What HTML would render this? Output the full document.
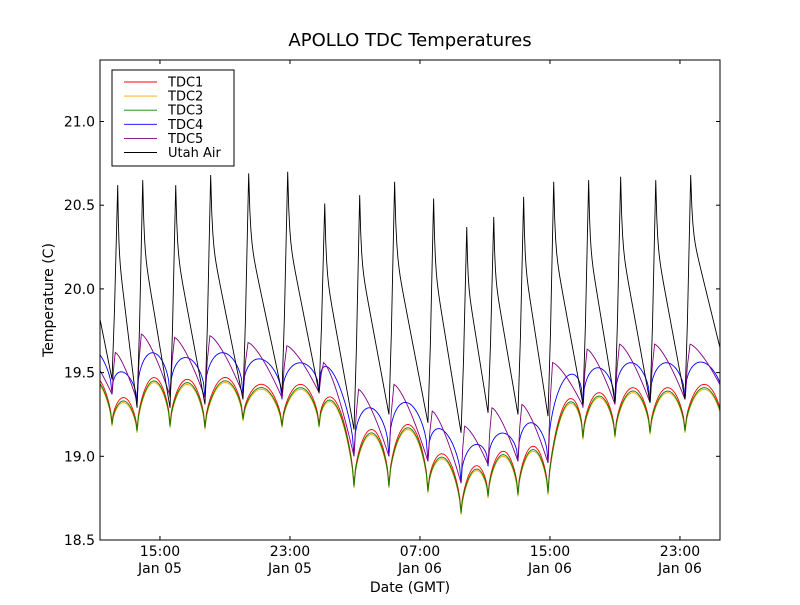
<!DOCTYPE html>
<html><head><meta charset="utf-8"><style>
body{margin:0;background:#fff}
svg text{font-family:"DejaVu Sans","Liberation Sans",sans-serif}
</style></head><body>
<svg id="chart" width="800" height="600" viewBox="0 0 800 600" xmlns="http://www.w3.org/2000/svg">
<rect x="0" y="0" width="800" height="600" fill="#fff"/>
<defs><clipPath id="clip"><rect x="100" y="60" width="620" height="480"/></clipPath></defs>
<text x="410" y="46" font-size="18" text-anchor="middle">APOLLO TDC Temperatures</text>
<g id="series" clip-path="url(#clip)"></g>
<rect x="100" y="60" width="620" height="480" fill="none" stroke="#000" stroke-width="1"/>
<g id="axes"></g>
<text x="410" y="592" font-size="14" text-anchor="middle">Date (GMT)</text>
<text x="53" y="300" font-size="14" text-anchor="middle" transform="rotate(-90 53 300)">Temperature (C)</text>
<g>
<rect x="112" y="70" width="122" height="96" fill="#fff" stroke="#000" stroke-width="1"/>
<g id="legend"></g>
</g>
</svg>
<script>
const troughTimes=[-1.3,0.74,2.28,4.31,6.46,8.80,11.20,13.48,15.63,17.78,20.18,22.22,23.88,25.72,27.57,29.72,31.69,33.85,36.00,38.4];
const tdc1Troughs=[19.30,19.20,19.16,19.19,19.18,19.23,19.19,19.19,18.83,18.83,18.80,18.67,18.77,18.78,18.79,19.12,19.13,19.15,19.16,19.15];
const tdc1Peaks=[19.48,19.35,19.47,19.46,19.47,19.43,19.43,19.32,19.16,19.19,19.01,18.94,19.03,19.06,19.32,19.38,19.41,19.41,19.43];
const tdc2Troughs=[19.28,19.18,19.14,19.17,19.16,19.21,19.17,19.17,18.81,18.81,18.78,18.65,18.75,18.76,18.77,19.10,19.11,19.13,19.14,19.13];
const tdc2Peaks=[19.45,19.32,19.44,19.43,19.44,19.40,19.40,19.29,19.13,19.16,18.98,18.91,19.00,19.03,19.29,19.35,19.38,19.38,19.40];
const tdc3Troughs=[19.29,19.19,19.15,19.18,19.17,19.22,19.18,19.18,18.82,18.82,18.79,18.66,18.76,18.77,18.78,19.11,19.12,19.14,19.15,19.14];
const tdc3Peaks=[19.46,19.33,19.45,19.44,19.45,19.41,19.41,19.30,19.14,19.17,18.99,18.92,19.01,19.04,19.30,19.36,19.39,19.39,19.41];
const tdc4Troughs=[19.50,19.37,19.32,19.35,19.35,19.37,19.34,19.38,19.00,19.00,18.97,18.84,18.94,18.97,18.96,19.29,19.31,19.32,19.34,19.30];
const tdc4Peaks=[19.64,19.50,19.62,19.59,19.62,19.58,19.56,19.46,19.29,19.32,19.15,19.07,19.14,19.20,19.47,19.53,19.56,19.56,19.56];
const tdc5Troughs=[19.50,19.37,19.33,19.36,19.35,19.37,19.35,19.38,19.00,19.00,18.97,18.84,18.95,18.97,18.96,19.30,19.31,19.32,19.34,19.38];
const tdc5Peaks=[19.64,19.62,19.73,19.71,19.72,19.68,19.66,19.56,19.40,19.43,19.27,19.18,19.29,19.31,19.56,19.64,19.67,19.67,19.67];
const utahTroughs=[19.40,19.46,19.29,19.29,19.31,19.34,19.38,19.38,19.16,19.25,19.20,19.14,19.26,19.25,19.24,19.31,19.32,19.32,19.34,19.55];
const utahPeaks=[20.60,20.62,20.65,20.62,20.68,20.69,20.70,20.51,20.56,20.64,20.54,20.37,20.43,20.55,20.64,20.65,20.67,20.65,20.68];
const yTicks=[18.5,19.0,19.5,20.0,20.5,21.0];
const xTickHours=[3.69,11.69,19.69,27.69,35.69];
const xTickTimes=["15:00","23:00","07:00","15:00","23:00"];
const xTickDates=["Jan 05","Jan 05","Jan 06","Jan 06","Jan 06"];
const legendLabels=["TDC1","TDC2","TDC3","TDC4","TDC5","Utah Air"];
const legendColors=["#ff0000","#ffa500","#008000","#0000ff","#800080","#000000"];

const NS="http://www.w3.org/2000/svg";
function X(t){return 100+t*16.25;}
function Y(v){return 540-(v-18.5)*167.4;}
function arcPts(tr,pk,expo,skew){
  const pts=[];
  for(let i=0;i<pk.length;i++){
    const ta=troughTimes[i],tb=troughTimes[i+1],va=tr[i],vb=tr[i+1],p=pk[i];
    for(let k=0;k<=24;k++){const u=k/24;const us=Math.pow(u,skew);
      const v=va+(vb-va)*u+(p-(va+vb)/2)*Math.pow(Math.sin(Math.PI*us),expo);
      pts.push([ta+(tb-ta)*u,v]);}
  }
  return pts;
}
function sawPts(tr,pk){
  const pts=[];
  for(let i=0;i<pk.length;i++){
    const ta=troughTimes[i],tb=troughTimes[i+1],va=tr[i],vb=tr[i+1],p=pk[i];
    pts.push([ta,va]);pts.push([ta+0.06*(tb-ta),va+(p-va)*0.6]);
    const t0=ta+0.13*(tb-ta);
    for(let k=0;k<=16;k++){const w=k/16;pts.push([t0+(tb-t0)*w,p-(p-vb)*Math.pow(w,1.4)]);}
  }
  return pts;
}
function utahPts(tr,pk){
  const pts=[];
  for(let i=0;i<pk.length;i++){
    const ta=troughTimes[i],tb=troughTimes[i+1],va=tr[i],vb=tr[i+1],p=pk[i];
    pts.push([ta,va]);pts.push([ta+0.15,va+(p-va)*0.35]);
    const t0=ta+0.35;
    for(let k=0;k<=30;k++){const w=k/30;
      pts.push([t0+(tb-t0)*w,vb+(p-vb)*(1-w)*(0.72+0.28*Math.exp(-w*20))]);}
  }
  return pts;
}
function draw(pts,color,name){
  const p=document.createElementNS(NS,"path");
  
  
  p.setAttribute("d",pts.map((q,i)=>(i?"L":"M")+X(q[0]).toFixed(2)+" "+Y(q[1]).toFixed(2)).join(""));
  p.setAttribute("fill","none");p.setAttribute("stroke",color);p.setAttribute("stroke-width","0.9");
  document.getElementById("series").appendChild(p);
}
draw(arcPts(tdc1Troughs,tdc1Peaks,0.6,1),"#ff0000","series-tdc1");
draw(arcPts(tdc2Troughs,tdc2Peaks,0.6,1),"#ffa500","series-tdc2");
draw(arcPts(tdc3Troughs,tdc3Peaks,0.6,1),"#008000","series-tdc3");
draw(arcPts(tdc4Troughs,tdc4Peaks,0.45,0.85),"#0000ff","series-tdc4");
draw(sawPts(tdc5Troughs,tdc5Peaks),"#800080","series-tdc5");
draw(utahPts(utahTroughs,utahPeaks),"#000000","series-utah-air");

const axes=document.getElementById("axes");
function el(tag,attrs,txt){const e=document.createElementNS(NS,tag);for(const k in attrs)e.setAttribute(k,attrs[k]);if(txt!==undefined)e.textContent=txt;axes.appendChild(e);return e;}
yTicks.forEach(v=>{const y=Y(v);
  const a=el("line",{x1:100,x2:104,y1:y,y2:y,stroke:"#000"});
  
  
  const b=el("line",{x1:716,x2:720,y1:y,y2:y,stroke:"#000"});
  
  
  const t=el("text",{x:95,y:y+5,"font-size":14,"text-anchor":"end"},v.toFixed(1));
  
  
});
xTickHours.forEach((h,i)=>{const x=X(h);
  const a=el("line",{x1:x,x2:x,y1:540,y2:536,stroke:"#000"});
  
  
  const b=el("line",{x1:x,x2:x,y1:60,y2:64,stroke:"#000"});
  
  
  const t=el("text",{x:x,y:556,"font-size":14,"text-anchor":"middle"},xTickTimes[i]);
  
  
  const d=el("text",{x:x,y:573,"font-size":14,"text-anchor":"middle"},xTickDates[i]);
  
  
});
const lg=document.getElementById("legend");
legendLabels.forEach((lab,i)=>{const y=82+i*14.1;
  const g=document.createElementNS(NS,"g");
  
  
  const l=document.createElementNS(NS,"line");
  l.setAttribute("x1",124);l.setAttribute("x2",157);l.setAttribute("y1",y);l.setAttribute("y2",y);
  l.setAttribute("stroke",legendColors[i]);l.setAttribute("stroke-width","0.9");
  const t=document.createElementNS(NS,"text");
  t.setAttribute("x",168);t.setAttribute("y",y+4.5);t.setAttribute("font-size","13");t.textContent=lab;
  g.appendChild(l);g.appendChild(t);lg.appendChild(g);
});
</script>
</body></html>
